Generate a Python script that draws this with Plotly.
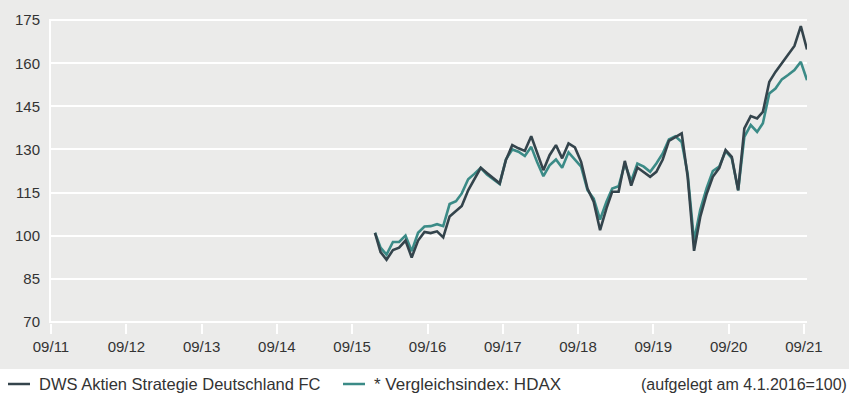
import pandas as pd
import plotly.graph_objects as go

# ---- data ----
start_date = ["2016-01-04"]
month_ends = [d.strftime("%Y-%m-%d") for d in
              pd.date_range("2016-01-31", "2021-09-30", freq=pd.offsets.MonthEnd())]
dates = start_date + month_ends

fund = [101.0,
        94.3, 91.6, 95.0, 95.8, 98.3, 92.4, 98.3, 101.3, 100.9, 101.5, 99.4, 106.7,
        108.6, 110.3, 115.8, 119.5, 123.6, 121.8, 120.0, 118.2, 126.3, 131.5, 130.4, 129.5,
        134.6, 129.2, 122.8, 128.0, 131.5, 126.9, 132.1, 130.7, 125.7, 116.4, 111.8, 101.9,
        109.5, 115.3, 115.3, 126.0, 117.4, 123.7, 122.2, 120.5, 122.2, 126.5, 133.0, 134.4,
        135.6, 120.5, 94.7, 106.5, 114.5, 120.5, 123.5, 129.8, 127.4, 115.8, 137.3, 141.6,
        140.8, 143.1, 153.5, 157.0, 159.9, 162.8, 166.0, 172.9, 164.8]

hdax = [101.0,
        95.8, 93.4, 97.8, 97.8, 100.0, 94.6, 101.0, 103.2, 103.3, 104.0, 103.3, 111.0,
        112.0, 114.7, 119.6, 121.5, 123.6, 121.3, 119.8, 118.0, 126.5, 130.0, 129.2, 127.7,
        130.9, 125.7, 120.7, 124.5, 126.5, 123.6, 129.0, 126.5, 124.0, 115.8, 112.9, 105.6,
        111.8, 116.4, 117.2, 125.0, 119.0, 125.1, 124.0, 122.2, 125.1, 128.6, 133.5, 134.6,
        132.6, 121.5, 98.2, 109.0, 116.5, 122.5, 124.0, 129.4, 127.0, 115.8, 134.4, 138.5,
        136.1, 139.1, 149.5, 151.2, 154.4, 155.9, 157.6, 160.5, 154.1]

tick_dates = ["2011-09-15", "2012-09-15", "2013-09-15", "2014-09-15", "2015-09-15",
              "2016-09-15", "2017-09-15", "2018-09-15", "2019-09-15", "2020-09-15",
              "2021-09-15"]
tick_labels = ["09/11", "09/12", "09/13", "09/14", "09/15", "09/16", "09/17",
               "09/18", "09/19", "09/20", "09/21"]
y_ticks = [70, 85, 100, 115, 130, 145, 160, 175]

name_fund = "DWS Aktien Strategie Deutschland FC"
name_idx = "* Vergleichsindex: HDAX"
note = "(aufgelegt am 4.1.2016=100)"

# ---- style ----
DARK = "#34444c"
TEAL = "#3b8b87"
GREY = "#ebebea"
TXT = "#333333"
FONT = "Liberation Sans, Arial, sans-serif"

W, H = 849, 400
L, R, T, B = 51, 42, 19, 77
pw, ph = W - L - R, H - T - B


def px(xp):
    return (xp - L) / pw


def py(yp):
    return (H - B - yp) / ph


fig = go.Figure()
fig.add_trace(go.Scatter(x=dates, y=hdax, mode="lines", name=name_idx,
                         line=dict(color=TEAL, width=2.6), showlegend=False))
fig.add_trace(go.Scatter(x=dates, y=fund, mode="lines", name=name_fund,
                         line=dict(color=DARK, width=2.6), showlegend=False))

shapes = [
    dict(type="rect", xref="paper", yref="paper", x0=px(0), x1=px(W), y0=py(369), y1=py(0),
         fillcolor=GREY, line=dict(width=0), layer="below"),
    dict(type="line", xref="paper", yref="paper", x0=px(8), x1=px(30), y0=py(384), y1=py(384),
         line=dict(color=DARK, width=2.5)),
    dict(type="line", xref="paper", yref="paper", x0=px(343), x1=px(365), y0=py(384), y1=py(384),
         line=dict(color=TEAL, width=2.5)),
]
annotations = [
    dict(xref="paper", yref="paper", x=px(37), y=py(384), text=name_fund, showarrow=False,
         xanchor="left", yanchor="middle", font=dict(size=16.5, color=TXT, family=FONT)),
    dict(xref="paper", yref="paper", x=px(372), y=py(384), text=name_idx, showarrow=False,
         xanchor="left", yanchor="middle", font=dict(size=17, color=TXT, family=FONT)),
    dict(xref="paper", yref="paper", x=px(849), y=py(384), text=note, showarrow=False,
         xanchor="right", yanchor="middle", font=dict(size=16, color=TXT, family=FONT)),
]

fig.update_layout(
    width=W, height=H,
    margin=dict(l=L, r=R, t=T, b=B, pad=0),
    paper_bgcolor="white", plot_bgcolor=GREY,
    font=dict(family=FONT, size=15, color=TXT),
    shapes=shapes, annotations=annotations,
    xaxis=dict(type="date", range=["2011-09-15", "2021-09-30"],
               tickmode="array", tickvals=tick_dates, ticktext=tick_labels,
               showgrid=False, zeroline=False, showline=False,
               ticks="outside", ticklen=10, tickwidth=2, tickcolor="white",
               tickfont=dict(size=15, color=TXT, family=FONT)),
    yaxis=dict(range=[69.6, 175.4], tickmode="array", tickvals=y_ticks,
               showgrid=True, gridcolor="white", gridwidth=2, zeroline=False,
               showline=True, linecolor="white", linewidth=2, ticks="",
               ticklabelstandoff=6,
               tickfont=dict(size=15, color=TXT, family=FONT)),
)

fig.write_html("out.html", config={"displayModeBar": False},
               post_script="document.body.style.margin='0';document.body.style.padding='0';")
